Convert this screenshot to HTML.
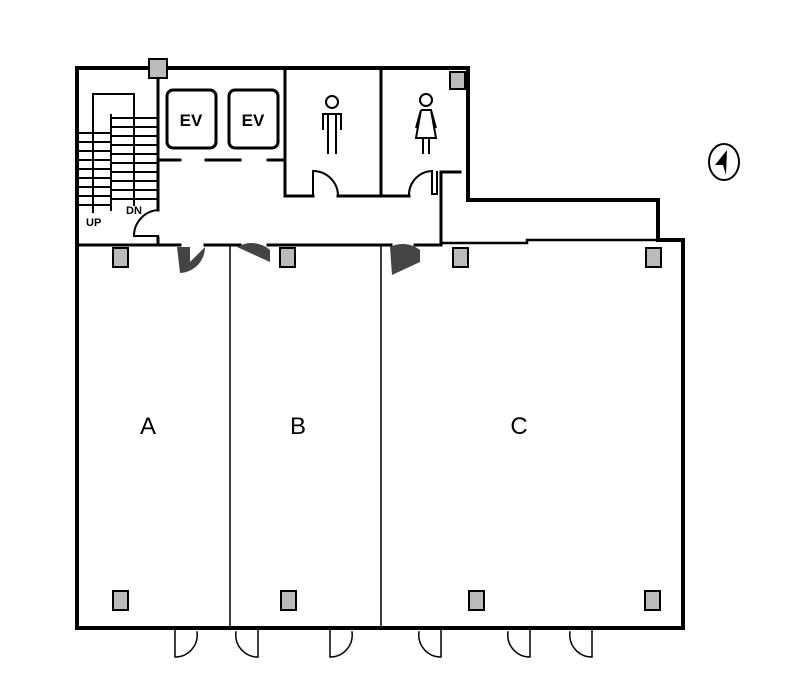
<!DOCTYPE html>
<html><head><meta charset="utf-8"><style>body{margin:0;background:#fff}svg{display:block}</style></head><body>
<svg width="787" height="686" viewBox="0 0 787 686" xmlns="http://www.w3.org/2000/svg" font-family="Liberation Sans, sans-serif">
<g stroke="#000" fill="none" stroke-linecap="square">
<path d="M77 68 H468 V200 H658 V240 H683 V628 H77 Z" stroke-width="4"/>
<path d="M77 245 H180 M205 245 H240 M268 245 H391 M415 245 H441 V172 H460" stroke-width="3"/>
<path d="M441 243 H527 V240 H656" stroke-width="2.5"/>
<path d="M158 68 V210" stroke-width="3"/>
<path d="M158 238 V245" stroke-width="3"/>
<path d="M158 210 A26 26 0 0 0 134 236 H158" stroke-width="2"/>
<g stroke-width="2">
<path d="M93 212 V94 H134 V205"/>
<path d="M111 115 V210"/>
<path d="M111 118 H158 M111 127 H158 M111 136 H158 M111 145 H158 M111 154 H158 M111 163 H158 M111 172 H158 M111 181 H158 M111 190 H158 M111 199 H158"/>
<path d="M78 133 H111 M78 142 H111 M78 151 H111 M78 160 H111 M78 169 H111 M78 178 H111 M78 187 H111 M78 196 H111 M78 205 H111"/>
</g>
<rect x="167" y="90" width="49" height="58" rx="6" stroke-width="3"/>
<rect x="229" y="90" width="49" height="58" rx="6" stroke-width="3"/>
<path d="M160 160 H180 M206 160 H240 M268 160 H285" stroke-width="3"/>
<path d="M285 68 V196 H313 M338 196 H409 M381 68 V196" stroke-width="3"/>
<path d="M313 196 V171 A25 25 0 0 1 338 196" stroke-width="2"/>
<path d="M409 196 A24 24 0 0 1 432 171 V194 H437 V172" stroke-width="2"/>
<path d="M230 245 V628 M381 245 V628" stroke-width="1.5"/>
<g stroke-width="1.5">
<path d="M175 630 V657 A22 22 0 0 0 197 632"/>
<path d="M258 630 V657 A22 22 0 0 1 236 632"/>
<path d="M330 630 V657 A22 22 0 0 0 352 632"/>
<path d="M441 630 V657 A22 22 0 0 1 419 632"/>
<path d="M530 630 V657 A22 22 0 0 1 508 632"/>
<path d="M592 630 V657 A22 22 0 0 1 570 632"/>
</g>
</g>
<g fill="#444">
<path d="M177 247 H190 V262 L205 247 A26 26 0 0 1 180 273 Z"/>
<path d="M237 247 A28 28 0 0 1 270 250 V262 Z"/>
<path d="M390 247 A28 28 0 0 1 420 250 V262 L392 275 Z"/>
</g>
<g fill="#bbb" stroke="#000" stroke-width="2">
<rect x="149" y="59" width="18" height="19"/>
<rect x="450" y="72" width="15" height="17"/>
<rect x="113" y="248" width="15" height="19"/>
<rect x="280" y="248" width="15" height="19"/>
<rect x="453" y="248" width="15" height="19"/>
<rect x="646" y="248" width="15" height="19"/>
<rect x="113" y="591" width="15" height="19"/>
<rect x="281" y="591" width="15" height="19"/>
<rect x="469" y="591" width="15" height="19"/>
<rect x="645" y="591" width="15" height="19"/>
</g>
<text x="191" y="126" font-size="17" font-weight="bold" text-anchor="middle">EV</text>
<text x="253" y="126" font-size="17" font-weight="bold" text-anchor="middle">EV</text>
<text x="86" y="226" font-size="11" font-weight="bold">UP</text>
<text x="126" y="214" font-size="11" font-weight="bold">DN</text>
<g stroke="#000" stroke-width="2" fill="none">
<circle cx="332" cy="102" r="6"/>
<path d="M323 130 V114 H341 V130 M328 114 V154 M336 114 V154"/>
<circle cx="426" cy="100" r="6"/>
<path d="M421 110 L416 128 M431 110 L436 128 M421 110 H431 L436 138 H416 L421 110 M423 138 V154 M429 138 V154"/>
</g>
<ellipse cx="724" cy="162" rx="15" ry="18" stroke="#000" stroke-width="2" fill="none"/>
<path d="M727 150 L715 165 L723 165 L726 175 Z" fill="#000"/>
<text x="148" y="434" font-size="24" text-anchor="middle">A</text>
<text x="298" y="434" font-size="24" text-anchor="middle">B</text>
<text x="519" y="434" font-size="24" text-anchor="middle">C</text>
</svg>
</body></html>
